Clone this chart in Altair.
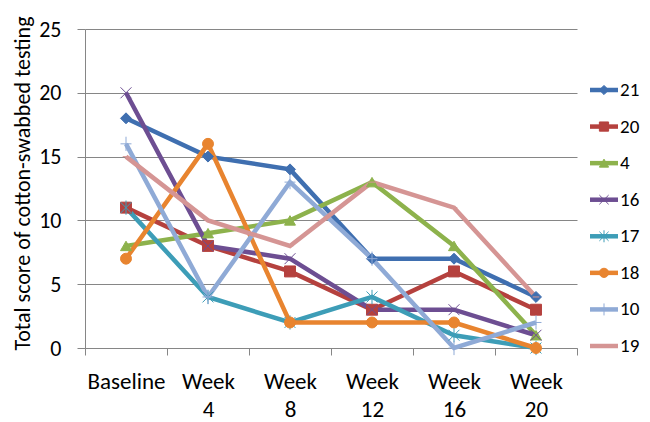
import altair as alt
import pandas as pd

times = ["Baseline", "Week 4", "Week 8", "Week 12", "Week 16", "Week 20"]
series = ["21", "20", "4", "16", "17", "18", "10", "19"]
s21 = [18, 15, 14, 7, 7, 4]
s20 = [11, 8, 6, 3, 6, 3]
s4 = [8, 9, 10, 13, 8, 1]
s16 = [20, 8, 7, 3, 3, 1]
s17 = [11, 4, 2, 4, 1, 0]
s18 = [7, 16, 2, 2, 2, 0]
s10 = [16, 4, 13, 7, 0, 2]
s19 = [15, 10, 8, 13, 11, 4]
values = [s21, s20, s4, s16, s17, s18, s10, s19]

line_colors = ["#3F6FB0", "#B5413E", "#8DB24C", "#6D4E92", "#3D9DB7", "#E8842F", "#8FAAD6", "#D59594"]
marker_fills = ["#5A8DD5", "#D25E5B", "#A4C95E", "#6D4E92", "#3D9DB7", "#F79A4E", "#8FAAD6", "#D59594"]
X_PATH = "M-1,-1L1,1M-1,1L1,-1"
STAR = "M-1,-1L1,1M-1,1L1,-1M0,-1.3L0,1.3"
PLUS = "M-1,0L1,0M0,-1.3L0,1.3"
DASH = "M-0.6,0L0.6,0"
shapes = ["diamond", "square", "triangle-up", X_PATH, STAR, "circle", PLUS, DASH]
stroke_widths = [1, 1, 1, 1.6, 1.6, 1, 1.6, 1.6]

FONT = "Carlito, Calibri, Lato, sans-serif"

rows = []
for s, vals in zip(series, values):
    for i, (t, v) in enumerate(zip(times, vals)):
        rows.append({"series": s, "time": t, "t": i, "score": v})
df = pd.DataFrame(rows)
leg_df = pd.DataFrame({"series": series})

color_line = alt.Scale(domain=series, range=line_colors)
color_fill = alt.Scale(domain=series, range=marker_fills)
shape_scale = alt.Scale(domain=series, range=shapes)
sw_scale = alt.Scale(domain=series, range=stroke_widths)

x_enc = alt.X(
    "time:N", sort=times, bandPosition=0.5,
    scale=alt.Scale(type="band", paddingInner=0, paddingOuter=0),
    axis=alt.Axis(title=None, tickBand="extent", labelExpr="split(datum.label, ' ')",
                  labelAngle=0, grid=False, tickSize=7, labelPadding=15,
                  labelLineHeight=28, labelFontSize=23),
)
y_enc = alt.Y(
    "score:Q", scale=alt.Scale(domain=[0, 25]),
    axis=alt.Axis(values=[0, 5, 10, 15, 20, 25], title="Total score of cotton-swabbed testing",
                  grid=True, tickSize=8, labelPadding=16,
                  labelFontSize=22, titleFontSize=22,
                  titleAngle=270, titleAlign="left", titleBaseline="alphabetic",
                  titleX=-56, titleY=321),
)

base = alt.Chart(df)
lines = base.mark_line(strokeWidth=4.5).encode(
    x=x_enc, y=y_enc,
    color=alt.Color("series:N", scale=color_line, legend=None),
    order=alt.Order("t:Q"),
)
points = base.mark_point(filled=True, size=120, opacity=1).encode(
    x=x_enc, y=y_enc,
    color=alt.Color("series:N", scale=color_fill, legend=None),
    stroke=alt.Stroke("series:N", scale=color_line, legend=None),
    shape=alt.Shape("series:N", scale=shape_scale, legend=None),
    strokeWidth=alt.StrokeWidth("series:N", scale=sw_scale, legend=None),
)
main = alt.layer(lines, points)

# legend drawn beside the plot area
leg_y = alt.Y("series:N", sort=series, axis=None,
              scale=alt.Scale(type="point", padding=0, range=[61, 317]))
leg_base = alt.Chart(leg_df)
leg_rule = leg_base.mark_rule(strokeWidth=4.5).encode(
    y=leg_y, x=alt.value(505), x2=alt.value(533),
    color=alt.Color("series:N", scale=color_line, legend=None),
)
leg_pts = leg_base.mark_point(filled=True, size=85, opacity=1).encode(
    y=leg_y, x=alt.value(519),
    color=alt.Color("series:N", scale=color_fill, legend=None),
    stroke=alt.Stroke("series:N", scale=color_line, legend=None),
    shape=alt.Shape("series:N", scale=shape_scale, legend=None),
    strokeWidth=alt.StrokeWidth("series:N", scale=sw_scale, legend=None),
)
leg_text = leg_base.mark_text(align="left", baseline="middle", fontSize=19, font=FONT, color="#000").encode(
    y=leg_y, x=alt.value(535), text="series:N",
)
legend = alt.layer(leg_rule, leg_pts, leg_text)

chart = alt.layer(main, legend).resolve_scale(
    y="independent"
).properties(
    width=492, height=319,
    autosize=alt.AutoSizeParams(type="none"),
    padding={"left": 77, "top": 21, "right": 65, "bottom": 73},
).configure_view(stroke="transparent").configure_axis(
    labelFont=FONT, titleFont=FONT, labelColor="#000", titleColor="#000",
    domainColor="#868686", tickColor="#868686", gridColor="#868686",
    titleFontWeight="normal",
)

chart.save("out.html", embed_options={"renderer": "svg", "actions": False})
